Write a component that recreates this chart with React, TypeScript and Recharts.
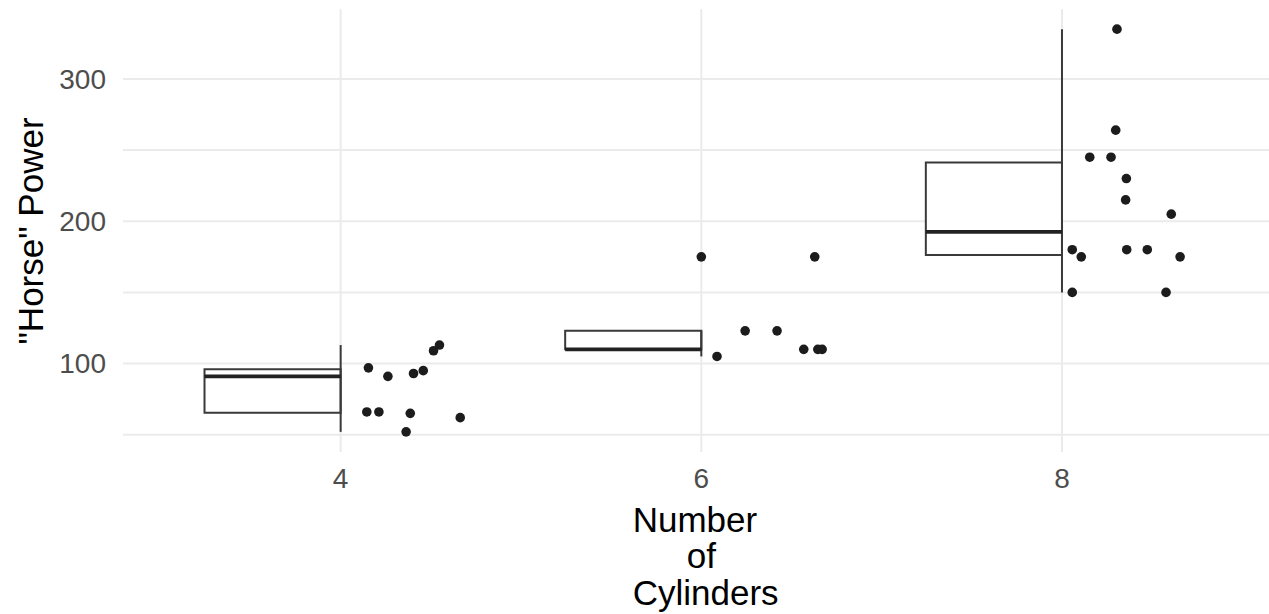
import React from 'react';
import { ComposedChart, XAxis, YAxis, Scatter, ReferenceLine, ReferenceArea, Label, CartesianGrid } from 'recharts';

// Categories
const cylinders = [4, 6, 8];

// Jittered points (hp values and jittered x positions)
const hp4 = [97, 91, 93, 95, 109, 113, 66, 66, 65, 52, 62];
const jit4 = [4.154, 4.262, 4.404, 4.458, 4.515, 4.548, 4.145, 4.212, 4.386, 4.363, 4.663];
const hp6 = [105, 123, 123, 110, 110, 110, 175];
const jit6 = [6.087, 6.243, 6.42, 6.568, 6.646, 6.67, 6.629];
const hp8 = [335, 264, 245, 245, 230, 215, 205, 180, 180, 180, 175, 175, 150, 150];
const jit8 = [8.305, 8.298, 8.154, 8.272, 8.357, 8.353, 8.606, 8.359, 8.473, 8.057, 8.655, 8.107, 8.057, 8.577];

// Box statistics per cylinder group
const q1 = [65.5, 110, 176.25];
const medians = [91, 110, 192.5];
const q3 = [96, 123, 241.25];
const whiskerLow = [52, 105, 150];
const whiskerHigh = [113, 123, 335];
const outlierX = [6];
const outlierY = [175];

// Axis ticks / gridlines
const yMajorTicks = [100, 200, 300];
const yGridLines = [50, 100, 150, 200, 250, 300];
const xTicks = [4, 6, 8];

const BOX_HALF = 0.755;
const FONT = "'Liberation Sans', Arial, Helvetica, sans-serif";

const points = [
  ...hp4.map((y, i) => ({ x: jit4[i], y })),
  ...hp6.map((y, i) => ({ x: jit6[i], y })),
  ...hp8.map((y, i) => ({ x: jit8[i], y })),
  ...outlierY.map((y, i) => ({ x: outlierX[i], y })),
];

const Dot = (props: any) => (
  <circle cx={props.cx} cy={props.cy} r={4.8} fill="#1c1c1c" />
);

const renderXTitle = (props: any) => {
  const vb = props.viewBox;
  const cx = vb.x + vb.width / 2;
  const y0 = vb.y;
  return (
    <g fontFamily={FONT} fontSize={35} fill="#000">
      <text x={cx - 63.3} y={y0 + 79.7} textAnchor="start">Number</text>
      <text x={cx - 9.3} y={y0 + 116} textAnchor="start">of</text>
      <text x={cx - 63.3} y={y0 + 153} textAnchor="start">Cylinders</text>
    </g>
  );
};

const renderYTitle = (props: any) => {
  const vb = props.viewBox;
  const x = vb.x + 42.7;
  const y = 231;
  return (
    <text
      x={x}
      y={y}
      transform={`rotate(-90, ${x}, ${y})`}
      textAnchor="middle"
      fontFamily={FONT}
      fontSize={35}
      fill="#000"
    >
      "Horse" Power
    </text>
  );
};

export default function App() {
  const grid = '#ebebeb';
  const boxStroke = '#3a3a3a';
  return (
    <div style={{ position: 'absolute', left: 0, top: 0, width: 1269, height: 614, background: '#fff' }}>
      <ComposedChart width={1269} height={614} margin={{ top: 9, right: 0, bottom: 12, left: 0 }}>
        <CartesianGrid
          stroke={grid}
          strokeWidth={2}
          horizontalValues={yGridLines}
          verticalValues={xTicks}
        />
        <XAxis
          type="number"
          dataKey="x"
          domain={[2.793, 9.148]}
          ticks={xTicks}
          axisLine={false}
          tickLine={false}
          tickSize={0}
          tickMargin={16}
          height={150}
          allowDataOverflow
          tick={{ fontSize: 28, fill: '#4d4d4d', fontFamily: FONT }}
        >
          <Label content={renderXTitle} />
        </XAxis>
        <YAxis
          type="number"
          dataKey="y"
          domain={[37.85, 349.15]}
          ticks={yMajorTicks}
          axisLine={false}
          tickLine={false}
          tickSize={0}
          tickMargin={17}
          width={123}
          allowDataOverflow
          tick={{ fontSize: 28, fill: '#4d4d4d', fontFamily: FONT }}
        >
          <Label content={renderYTitle} />
        </YAxis>

        {cylinders.map((c, i) => (
          <ReferenceArea
            key={`box${c}`}
            x1={c - BOX_HALF}
            x2={c}
            y1={q1[i]}
            y2={q3[i]}
            fill="#ffffff"
            fillOpacity={1}
            stroke={boxStroke}
            strokeWidth={2}
          />
        ))}
        {cylinders.map((c, i) => (
          <ReferenceLine
            key={`wh${c}`}
            segment={[{ x: c, y: whiskerLow[i] }, { x: c, y: whiskerHigh[i] }]}
            stroke={boxStroke}
            strokeWidth={2}
          />
        ))}
        {cylinders.map((c, i) => (
          <ReferenceLine
            key={`med${c}`}
            segment={[{ x: c - BOX_HALF, y: medians[i] }, { x: c, y: medians[i] }]}
            stroke="#222222"
            strokeWidth={3.6}
          />
        ))}

        <Scatter data={points} shape={Dot} isAnimationActive={false} />
      </ComposedChart>
    </div>
  );
}
